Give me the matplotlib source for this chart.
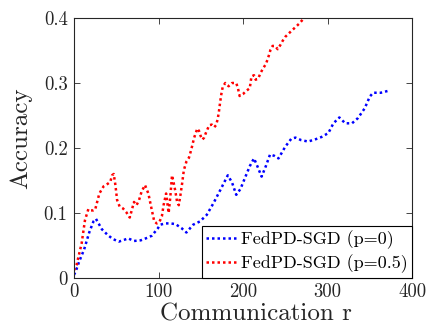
import matplotlib
matplotlib.use('Agg')
import matplotlib.pyplot as plt

plt.rcParams['font.family'] = ['cmr10', 'DejaVu Serif']
plt.rcParams['axes.formatter.use_mathtext'] = True

# accuracy per communication round, two participation settings
rounds_p0 = [0, 2, 6, 12, 18, 23, 26, 33, 40, 46, 53, 60, 64, 71, 79, 87, 92, 99,
             102, 108, 114, 120, 127, 133, 141, 149, 157, 165, 173, 182, 187, 192,
             197, 202, 208, 213, 217, 222, 227, 232, 237, 242, 250, 257, 262, 269,
             277, 285, 293, 301, 307, 314, 321, 329, 336, 344, 350, 354, 363, 372]
acc_p0 = [0.005, 0.010, 0.025, 0.044, 0.070, 0.087, 0.091, 0.075, 0.066, 0.060,
          0.056, 0.059, 0.061, 0.057, 0.058, 0.062, 0.065, 0.076, 0.082, 0.084,
          0.084, 0.083, 0.077, 0.070, 0.082, 0.087, 0.097, 0.115, 0.135, 0.158,
          0.147, 0.128, 0.137, 0.153, 0.172, 0.184, 0.172, 0.156, 0.172, 0.190,
          0.188, 0.184, 0.202, 0.214, 0.216, 0.212, 0.210, 0.213, 0.217, 0.223,
          0.238, 0.247, 0.238, 0.238, 0.246, 0.261, 0.279, 0.285, 0.285, 0.288]

rounds_p05 = [0, 3, 9, 13, 17, 20, 23, 25, 30, 35, 40, 43, 45, 47, 49, 51, 54, 58,
              62, 66, 71, 74, 77, 80, 84, 88, 92, 95, 98, 101, 104, 106, 109, 111,
              112, 114, 116, 118, 120, 122, 124, 126, 128, 130, 133, 136, 138, 140,
              142, 144, 146, 148, 150, 152, 154, 156, 158, 160, 163, 166, 168, 170,
              171.5, 173, 174.5, 176, 179, 183, 187, 192, 194, 196, 200, 204, 208,
              210, 213, 215, 218, 221, 224, 227, 229, 231, 232.5, 235, 238, 241,
              244, 247, 250, 254, 258, 263, 267, 271, 276]
acc_p05 = [0.012, 0.020, 0.053, 0.089, 0.106, 0.104, 0.104, 0.105, 0.130, 0.141,
           0.145, 0.148, 0.158, 0.160, 0.143, 0.120, 0.110, 0.107, 0.101, 0.093,
           0.117, 0.112, 0.120, 0.133, 0.143, 0.130, 0.105, 0.087, 0.084, 0.086,
           0.095, 0.112, 0.130, 0.110, 0.100, 0.125, 0.158, 0.146, 0.133, 0.117,
           0.112, 0.128, 0.146, 0.166, 0.179, 0.185, 0.194, 0.204, 0.215, 0.223,
           0.230, 0.226, 0.218, 0.213, 0.216, 0.223, 0.229, 0.235, 0.236, 0.232,
           0.235, 0.244, 0.256, 0.271, 0.284, 0.294, 0.300, 0.295, 0.300, 0.300,
           0.292, 0.280, 0.283, 0.288, 0.292, 0.310, 0.312, 0.305, 0.307, 0.316,
           0.323, 0.329, 0.336, 0.344, 0.351, 0.357, 0.357, 0.352, 0.358, 0.365,
           0.371, 0.376, 0.381, 0.387, 0.392, 0.398, 0.406]

labels = ['FedPD-SGD (p=0)', 'FedPD-SGD (p=0.5)']
xticks = [0, 100, 200, 300, 400]
yticks = [0, 0.1, 0.2, 0.3, 0.4]
ytick_labels = ['0', '0.1', '0.2', '0.3', '0.4']

axis_gray = (0.15, 0.15, 0.15)

fig = plt.figure(figsize=(4.27, 3.26), dpi=100)
ax = fig.add_axes([0.1733, 0.1472, 0.9649 - 0.1733, 0.9448 - 0.1472])

ax.plot(rounds_p0, acc_p0, color='blue', linestyle=(0, (1, 1.2)), linewidth=1.8,
        dash_capstyle='butt', label=labels[0])
ax.plot(rounds_p05, acc_p05, color='red', linestyle=(0, (1, 1.2)), linewidth=1.8,
        dash_capstyle='butt', label=labels[1])

ax.set_xlim(0, 400)
ax.set_ylim(0, 0.4)
ax.set_xticks(xticks)
ax.set_xticklabels([str(t) for t in xticks])
ax.set_yticks(yticks)
ax.set_yticklabels(ytick_labels)

ax.tick_params(direction='in', top=True, right=True, length=4, width=0.6,
               colors=axis_gray, labelsize=13.5, pad=4.5)
ax.tick_params(axis='x', pad=4)
for side in ax.spines.values():
    side.set_color(axis_gray)
    side.set_linewidth(0.8)

ax.set_xlabel('Communication r', fontsize=18, color=axis_gray)
ax.xaxis.set_label_coords(0.538, -0.097)
ax.set_ylabel('Accuracy', fontsize=18, color=axis_gray)
ax.yaxis.set_label_coords(-0.124, 0.538)

leg = ax.legend(loc='lower right', fontsize=13, frameon=True, fancybox=False,
                borderaxespad=0, handlelength=1.75, handletextpad=0.15,
                labelspacing=0.3, borderpad=0.25)
leg.get_frame().set_edgecolor('black')
leg.get_frame().set_linewidth(0.8)
leg.get_frame().set_alpha(1)

fig.savefig('out.png', dpi=100)
